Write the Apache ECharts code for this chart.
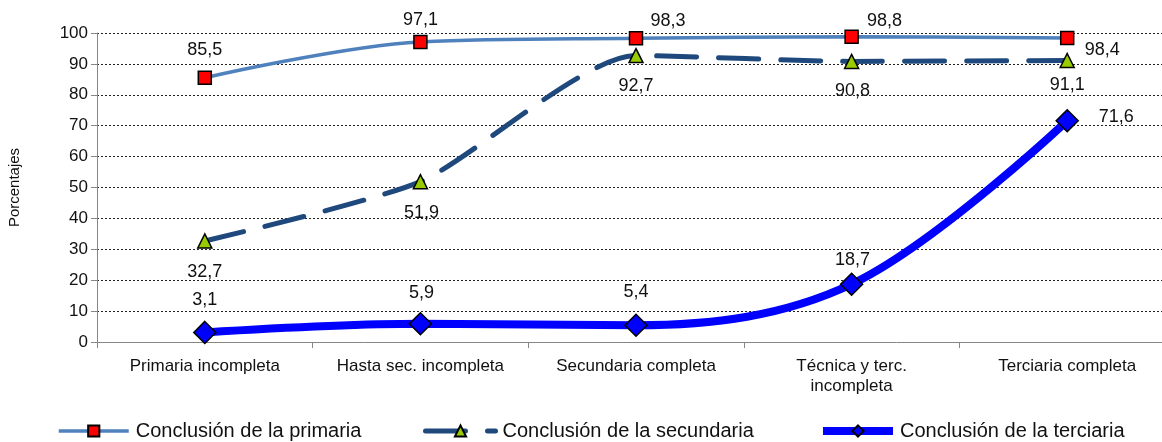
<!DOCTYPE html>
<html><head><meta charset="utf-8">
<script src="https://cdn.jsdelivr.net/npm/echarts@6/dist/echarts.min.js"></script>
<style>html,body{margin:0;padding:0;background:#fff}#c{width:1162px;height:442px}</style>
</head><body><div id="c"></div>
<script>
var categories = ['Primaria incompleta', 'Hasta sec. incompleta', 'Secundaria completa', 'Técnica y terc.\nincompleta', 'Terciaria completa'];
var primaria = [85.5, 97.1, 98.3, 98.8, 98.4];
var secundaria = [32.7, 51.9, 92.7, 90.8, 91.1];
var terciaria = [3.1, 5.9, 5.4, 18.7, 71.6];
var seriesNames = ['Conclusión de la primaria', 'Conclusión de la secundaria', 'Conclusión de la terciaria'];
var yTicks = [0, 10, 20, 30, 40, 50, 60, 70, 80, 90, 100];

// label centre offsets from the point (style only)
var offP = [[0, -28], [0, -22], [32, -17], [33, -16], [35, 12]];
var offS = [[0, 31], [1, 31], [0, 30], [1, 30], [0, 25]];
var offT = [[0, -32], [1, -31], [0, -33], [1, -24], [49, -4]];

var font = 'Liberation Sans, Arial, sans-serif';
function fmt(v){ return String(v).replace('.', ','); }
function build(vals, offs){
  return vals.map(function(v, i){
    return {value: v, label: {show: true, position: 'inside', offset: offs[i], formatter: fmt(v),
      color: '#111', fontSize: 18, fontFamily: font, textBorderWidth: 0}};
  });
}
function legend(name, left){
  return {
    data: [name], left: left, top: 421, padding: 0, itemWidth: 70, itemHeight: 14,
    textStyle: {fontSize: 20, fontFamily: font, color: '#111', padding: [0, 0, 0, 2]},
    lineStyle: {width: 'inherit'}
  };
}

var chart = echarts.init(document.getElementById('c'), null, {renderer: 'canvas'});
chart.setOption({
  animation: false,
  grid: {left: 97, right: -13, top: 33, bottom: 100, containLabel: false, outerBoundsMode: 'none'},
  legend: [legend(seriesNames[0], 57), legend(seriesNames[1], 423), legend(seriesNames[2], 819)],
  xAxis: {
    type: 'category', data: categories, boundaryGap: true,
    axisLine: {lineStyle: {color: '#868686', width: 1}},
    axisTick: {show: true, length: 6, inside: false, lineStyle: {color: '#868686'}},
    axisLabel: {fontSize: 17, fontFamily: font, color: '#111', margin: 14, lineHeight: 20, interval: 0}
  },
  yAxis: {
    type: 'value', min: 0, max: 100, interval: 10,
    name: 'Porcentajes', nameLocation: 'middle', nameGap: 75, nameRotate: 90,
    nameTextStyle: {fontSize: 15, fontFamily: font, color: '#111'},
    axisLine: {show: true, lineStyle: {color: '#868686', width: 1}},
    axisTick: {show: true, length: 6, lineStyle: {color: '#868686'}},
    axisLabel: {fontSize: 17, fontFamily: font, color: '#111', margin: 9,
      formatter: function(v){ return yTicks.indexOf(v) >= 0 ? String(v) : ''; }},
    splitLine: {show: true, lineStyle: {color: '#222', width: 1, type: [2, 2]}}
  },
  series: [
    {name: seriesNames[0], type: 'line', smooth: 0.35, data: build(primaria, offP),
      symbol: 'rect', symbolSize: 13,
      lineStyle: {color: '#4F81BD', width: 3.5},
      itemStyle: {color: '#FF0000', borderColor: '#000', borderWidth: 1.5}, z: 2},
    {name: seriesNames[1], type: 'line', smooth: 0.22, data: build(secundaria, offS),
      symbol: 'triangle', symbolSize: 14,
      lineStyle: {color: '#1F497D', width: 5, type: [40, 22], cap: 'round'},
      itemStyle: {color: '#99CC00', borderColor: '#000', borderWidth: 1.5}, z: 3},
    {name: seriesNames[2], type: 'line', smooth: 0.35, data: build(terciaria, offT),
      symbol: 'diamond', symbolSize: 22,
      lineStyle: {color: '#0000FF', width: 8},
      itemStyle: {color: '#0000FF', borderColor: '#000', borderWidth: 1.5}, z: 4}
  ]
});
</script></body></html>
